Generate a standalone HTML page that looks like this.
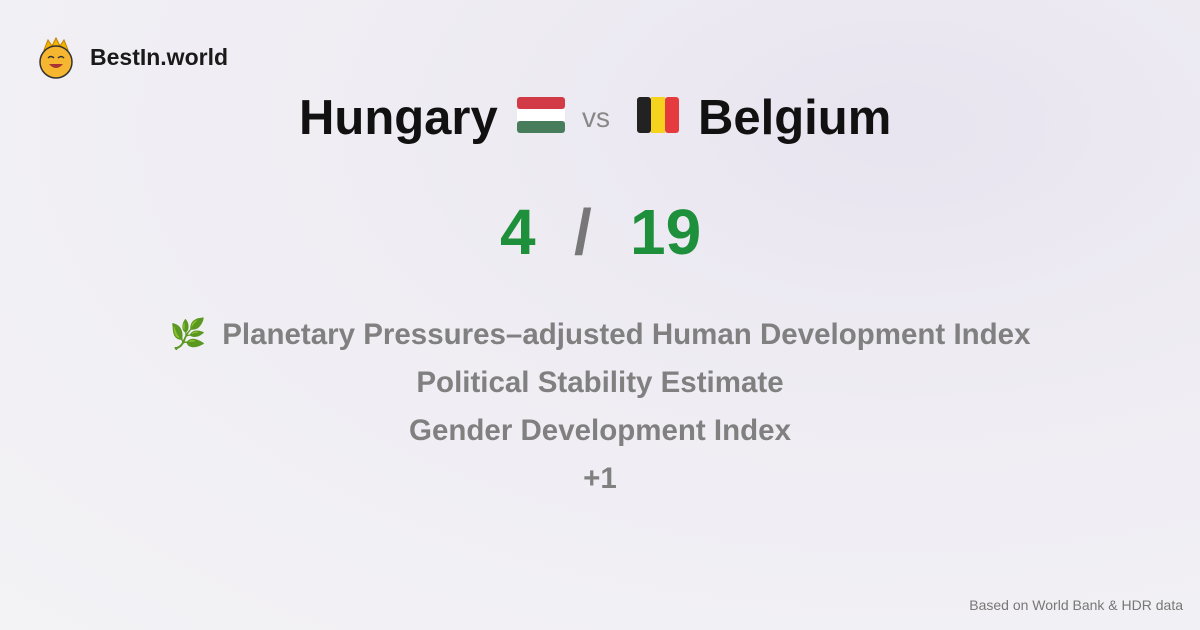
<!DOCTYPE html>
<html><head><meta charset="utf-8"><style>
html,body{margin:0;padding:0}
body{width:1200px;height:630px;overflow:hidden;position:relative;font-family:"Liberation Sans",sans-serif;
background:radial-gradient(ellipse at 75% 20%,#e8e4f0 0%,#efedf3 40%,#f3f2f5 100%);}
.abs{position:absolute}
.c{left:0;width:1200px;text-align:center}
</style></head><body>
<div class="abs" style="left:38px;top:36px;width:220px;height:44px">
<svg width="36" height="44" style="position:absolute;left:0;top:0">
<polygon points="6,14 10,4 14,10 18,2 22,10 26,4 30,14" fill="#f4b400" stroke="#c08000"/>
<circle cx="18" cy="26" r="16" fill="#f6b630" stroke="#333" stroke-width="1.5"/>
<path d="M10 22 q3 -3 6 0 M20 22 q3 -3 6 0" stroke="#333" stroke-width="1.5" fill="none"/>
<path d="M11 28 q7 8 14 0 z" fill="#a33"/>
</svg>
<div style="position:absolute;left:52px;top:8px;font-size:23px;font-weight:bold;color:#1a1a1a">BestIn.world</div>
</div>
<div class="abs c" style="top:90px;height:60px;font-size:49px;font-weight:bold;color:#111">
<span style="position:absolute;left:299px;top:0">Hungary</span>
<svg class="abs" style="left:517px;top:7px" width="48" height="36"><rect width="48" height="12" rx="3" fill="#d23a45"/><rect y="12" width="48" height="12" fill="#fff"/><rect y="24" width="48" height="12" rx="3" fill="#477d5a"/></svg>
<span style="position:absolute;left:582px;top:12px;font-size:28px;font-weight:normal;color:#888">vs</span>
<svg class="abs" style="left:637px;top:7px" width="42" height="36"><rect width="14" height="36" rx="3" fill="#222"/><rect x="14" width="14" height="36" fill="#f6d31c"/><rect x="28" width="14" height="36" rx="3" fill="#e53b3e"/></svg>
<span style="position:absolute;left:698px;top:0">Belgium</span>
</div>
<div class="abs" style="left:500px;top:195px;font-size:64px;font-weight:bold;color:#1e8f3a">4</div>
<div class="abs" style="left:574px;top:195px;font-size:64px;font-weight:bold;color:#777">/</div>
<div class="abs" style="left:630px;top:195px;font-size:64px;font-weight:bold;color:#1e8f3a">19</div>
<div class="abs c" style="top:311px;font-size:29.5px;font-weight:bold;color:#808080;line-height:48px">
<div><span style="color:#4a9a3a;margin-right:16px">🌿</span>Planetary Pressures–adjusted Human Development Index</div>
<div>Political Stability Estimate</div>
<div>Gender Development Index</div>
<div>+1</div>
</div>
<div class="abs" style="right:17px;top:597px;font-size:14px;color:#777">Based on World Bank &amp; HDR data</div>
</body></html>
